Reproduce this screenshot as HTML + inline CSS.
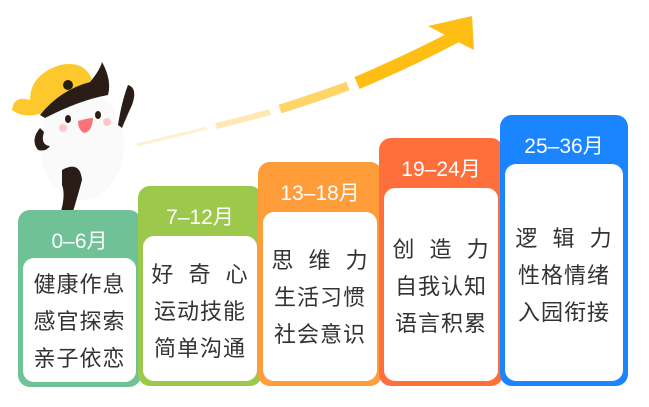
<!DOCTYPE html>
<html><head><meta charset="utf-8"><style>
body{margin:0;width:649px;height:407px;background:#fff;overflow:hidden;position:relative;font-family:"Liberation Sans","Noto Sans CJK SC",sans-serif;}
.card{position:absolute;border-radius:12px;}
.hd{position:absolute;left:0;right:0;text-align:center;color:#fff;font-size:21px;}
.in{position:absolute;left:5px;right:5px;bottom:5px;background:#fff;border-radius:11px;}
.t{position:absolute;left:0;right:0;text-align:center;color:#333;font-size:22px;line-height:37px;letter-spacing:1px;word-spacing:7px;}
</style></head><body>
<svg width="649" height="407" style="position:absolute;left:0;top:0">
<g stroke-linecap="butt" fill="none">
<path d="M137 145 Q170 137 207 128" stroke="#ffe7b0" stroke-width="3" opacity="0.6"/>
<path d="M216 126 Q245 119 270 112" stroke="#ffe09a" stroke-width="6" opacity="0.75"/>
<path d="M280 109 Q315 98 348 86" stroke="#ffd56a" stroke-width="9"/>
<path d="M357 83 Q420 56 462 33" stroke="#ffbe14" stroke-width="13"/>
</g>
<polygon points="428,26 472,16 474,50 464,45" fill="#ffbe14"/>
<ellipse cx="82" cy="145" rx="42" ry="55" fill="#fafafa"/>
<path d="M62 170 Q80 160 82 180 Q78 195 72 215 L60 215 Q66 195 62 185 Z" fill="#2a1d17"/>
<path d="M40 128 Q30 140 38 150 Q46 152 50 146 Q40 145 44 132 Z" fill="#2a1d17"/>
<path d="M118 125 Q122 100 128 85 Q138 88 132 105 Q126 118 122 128 Z" fill="#2a1d17"/>
<path d="M12 110 Q14 95 30 100 Q30 75 60 65 Q85 60 92 80 L45 112 Q25 120 12 110 Z" fill="#fcc82c"/>
<path d="M40 115 Q60 90 90 82 Q100 70 102 62 Q112 80 108 95 Q80 100 45 118 Z" fill="#2a1d17"/>
<circle cx="68" cy="85" r="5" fill="#2a1d17"/>
<ellipse cx="68" cy="119" rx="3" ry="4" fill="#2a1d17"/>
<ellipse cx="98" cy="115" rx="3" ry="4" fill="#2a1d17"/>
<path d="M78 121 Q88 118 93 118 Q92 132 84 133 Q78 130 78 121 Z" fill="#f7757a"/>
<circle cx="63" cy="128" r="4" fill="#ffc8c8"/>
<circle cx="107" cy="122" r="4" fill="#ffc8c8"/>
</svg>

<div class="card" style="left:18px;top:210px;width:123px;height:177px;background:#6fc196">
<div class="hd" style="top:15px">0–6月</div>
<div class="in" style="top:48px"><div class="t" style="top:8px">健康作息<br>感官探索<br>亲子依恋</div></div></div>

<div class="card" style="left:138px;top:186px;width:124px;height:200px;background:#9cc84c">
<div class="hd" style="top:15px">7–12月</div>
<div class="in" style="top:50px"><div class="t" style="top:20px">好 奇 心<br>运动技能<br>简单沟通</div></div></div>

<div class="card" style="left:258px;top:162px;width:124px;height:224px;background:#ff9d3a">
<div class="hd" style="top:15px">13–18月</div>
<div class="in" style="top:50px"><div class="t" style="top:30px">思 维 力<br>生活习惯<br>社会意识</div></div></div>

<div class="card" style="left:379px;top:138px;width:124px;height:248px;background:#ff6f3c">
<div class="hd" style="top:15px">19–24月</div>
<div class="in" style="top:50px"><div class="t" style="top:43px">创 造 力<br>自我认知<br>语言积累</div></div></div>

<div class="card" style="left:500px;top:115px;width:128px;height:271px;background:#1a85ff">
<div class="hd" style="top:15px">25–36月</div>
<div class="in" style="top:49px"><div class="t" style="top:56px">逻 辑 力<br>性格情绪<br>入园衔接</div></div></div>
</body></html>
